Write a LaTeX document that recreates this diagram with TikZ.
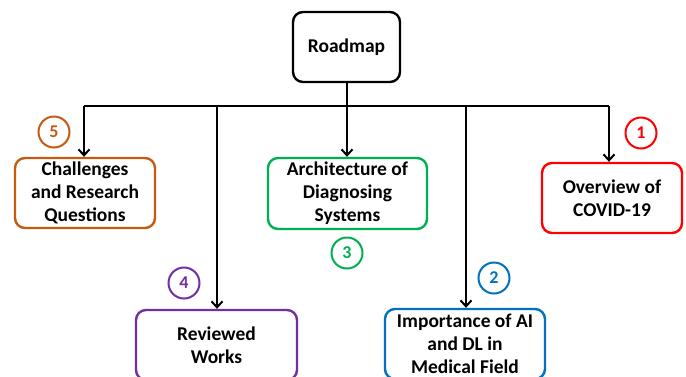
\documentclass[tikz,border=0pt]{standalone}
\usepackage{fontspec}
\setmainfont{Carlito}
\usetikzlibrary{arrows.meta}
\definecolor{corange}{HTML}{C55A11}
\definecolor{cgreen}{HTML}{00B050}
\definecolor{cred}{HTML}{FF0000}
\definecolor{cpurple}{HTML}{7030A0}
\definecolor{cblue}{HTML}{0070C0}
\begin{document}
\begin{tikzpicture}[x=1pt,y=-1pt,
  topic/.style={draw=#1, line width=2.4pt, rounded corners=10pt, fill=white,
    align=center, inner sep=1pt, font=\fontsize{19.5}{23}\selectfont\bfseries},
  badge/.style={draw=#1, text=#1, circle, line width=2pt, minimum size=31pt,
    inner sep=0pt, font=\fontsize{18}{20}\selectfont\bfseries},
  link/.style={line width=2pt, black},
  arrow/.style={link, -{Straight Barb[length=6pt,width=11pt,line width=2pt]}}]
\useasboundingbox (0,0) rectangle (686,376);
% root
\node[topic=black, minimum width=107pt, minimum height=70pt] (root) at (346.5,47) {Roadmap};
% topics
\node[topic=corange, minimum width=140pt, minimum height=70pt] (chal) at (85,193) {Challenges\\and Research\\Questions};
\node[topic=cgreen, minimum width=159pt, minimum height=71pt] (arch) at (347.5,193.5) {Architecture of\\Diagnosing\\Systems};
\node[topic=cred, minimum width=140pt, minimum height=70pt] (over) at (612,198) {Overview of\\COVID-19};
\node[topic=cpurple, minimum width=161pt, minimum height=70pt] (rev) at (216.5,345) {Reviewed\\Works};
\node[topic=cblue, minimum width=160pt, minimum height=70pt] (imp) at (465,344) {Importance of AI\\and DL in\\Medical Field};
% number badges
\node[badge=corange] (n5) at (54,132) {5};
\node[badge=cgreen] (n3) at (347,253) {3};
\node[badge=cred] (n1) at (641,133) {1};
\node[badge=cpurple] (n4) at (184,283) {4};
\node[badge=cblue] (n2) at (494,278) {2};
% branch points on the bus line
\coordinate (b5) at (84,106);
\coordinate (b4) at (217,106);
\coordinate (b3) at (347,106);
\coordinate (b2) at (466,106);
\coordinate (b1) at (609,106);
% connectors
\draw[link] (root.south) -- (root.south |- b3);
\draw[link] (b5) -- (b1);
\draw[arrow] (b5) -- (b5 |- chal.north);
\draw[arrow] (b4) -- (b4 |- rev.north);
\draw[arrow] (b3) -- (b3 |- arch.north);
\draw[arrow] (b2) -- (b2 |- imp.north);
\draw[arrow] (b1) -- (b1 |- over.north);
\end{tikzpicture}
\end{document}
